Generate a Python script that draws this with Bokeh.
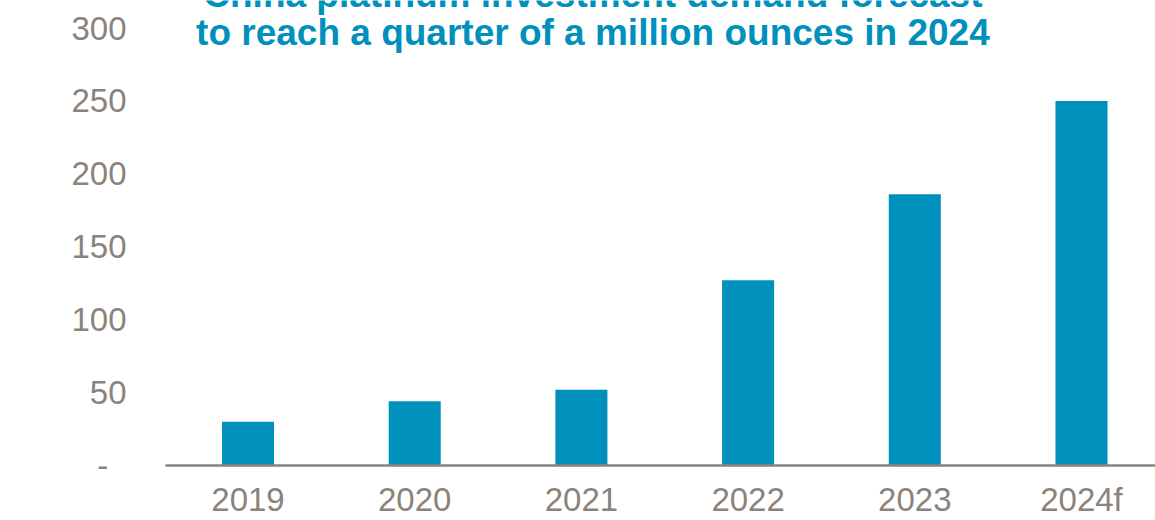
import math
from bokeh.plotting import figure
from bokeh.models import Range1d, FixedTicker, Label, ColumnDataSource
from bokeh.embed import file_html
from bokeh.resources import INLINE

years = ["2019", "2020", "2021", "2022", "2023", "2024f"]
sales_koz = [30, 44, 52, 127, 186, 250]
y_ticks = [0, 50, 100, 150, 200, 250, 300]
y_tick_labels = ["-\u00a0\u00a0", "50", "100", "150", "200", "250", "300"]
title_lines = ["China platinum investment demand forecast",
               "to reach a quarter of a million ounces in 2024"]
y_label = "Platinum sales (koz)"

GRAY = "#8B837B"
BLUE = "#0090BC"
FONT = "Liberation Sans"

xs = list(range(len(years)))
src = ColumnDataSource(dict(x=xs, top=sales_koz))

p = figure(width=1155, height=520, output_backend="svg", toolbar_location=None,
           x_range=Range1d(-0.495, 5.444), y_range=Range1d(0, 318.9),
           min_border_left=165, min_border_right=0, min_border_top=0,
           min_border_bottom=50)
p.outline_line_color = None
p.grid.grid_line_color = None
p.background_fill_color = "white"
p.border_fill_color = "white"

p.vbar(x="x", top="top", width=0.312, source=src, fill_color=BLUE,
       line_color=None)

# x axis
xa = p.xaxis[0]
xa.ticker = FixedTicker(ticks=xs)
xa.major_label_overrides = {i: y for i, y in enumerate(years)}
xa.axis_line_color = GRAY
xa.axis_line_width = 2.5
xa.major_tick_line_color = None
xa.minor_tick_line_color = None
xa.major_tick_out = 0
xa.minor_tick_out = 0
xa.major_tick_in = 0
xa.major_label_text_font = FONT
xa.major_label_text_font_size = "33px"
xa.major_label_text_color = GRAY
xa.major_label_standoff = 15

# y axis
ya = p.yaxis[0]
ya.ticker = FixedTicker(ticks=y_ticks)
ya.major_label_overrides = {t: l for t, l in zip(y_ticks, y_tick_labels)}
ya.axis_line_color = None
ya.major_tick_line_color = None
ya.minor_tick_line_color = None
ya.major_tick_out = 0
ya.minor_tick_out = 0
ya.major_label_text_font = FONT
ya.major_label_text_font_size = "33px"
ya.major_label_text_color = GRAY
ya.major_label_standoff = 39

# title (two lines, first one runs off the top of the page)
p.add_layout(Label(x=2.069, y=323.0, text=title_lines[0], text_align="center",
                   text_baseline="alphabetic", text_font=FONT,
                   text_font_style="bold", text_font_size="37px",
                   text_color=BLUE))
p.add_layout(Label(x=2.069, y=297.0, text=title_lines[1], text_align="center",
                   text_baseline="alphabetic", text_font=FONT,
                   text_font_style="bold", text_font_size="37px",
                   text_color=BLUE))

# rotated y-axis label
p.add_layout(Label(x=-1.317, y=195.5, text=y_label, angle=math.pi / 2,
                   text_align="center", text_baseline="middle",
                   text_font=FONT, text_font_size="28px", text_color=GRAY))

open("out.html", "w").write(file_html(p, INLINE))
